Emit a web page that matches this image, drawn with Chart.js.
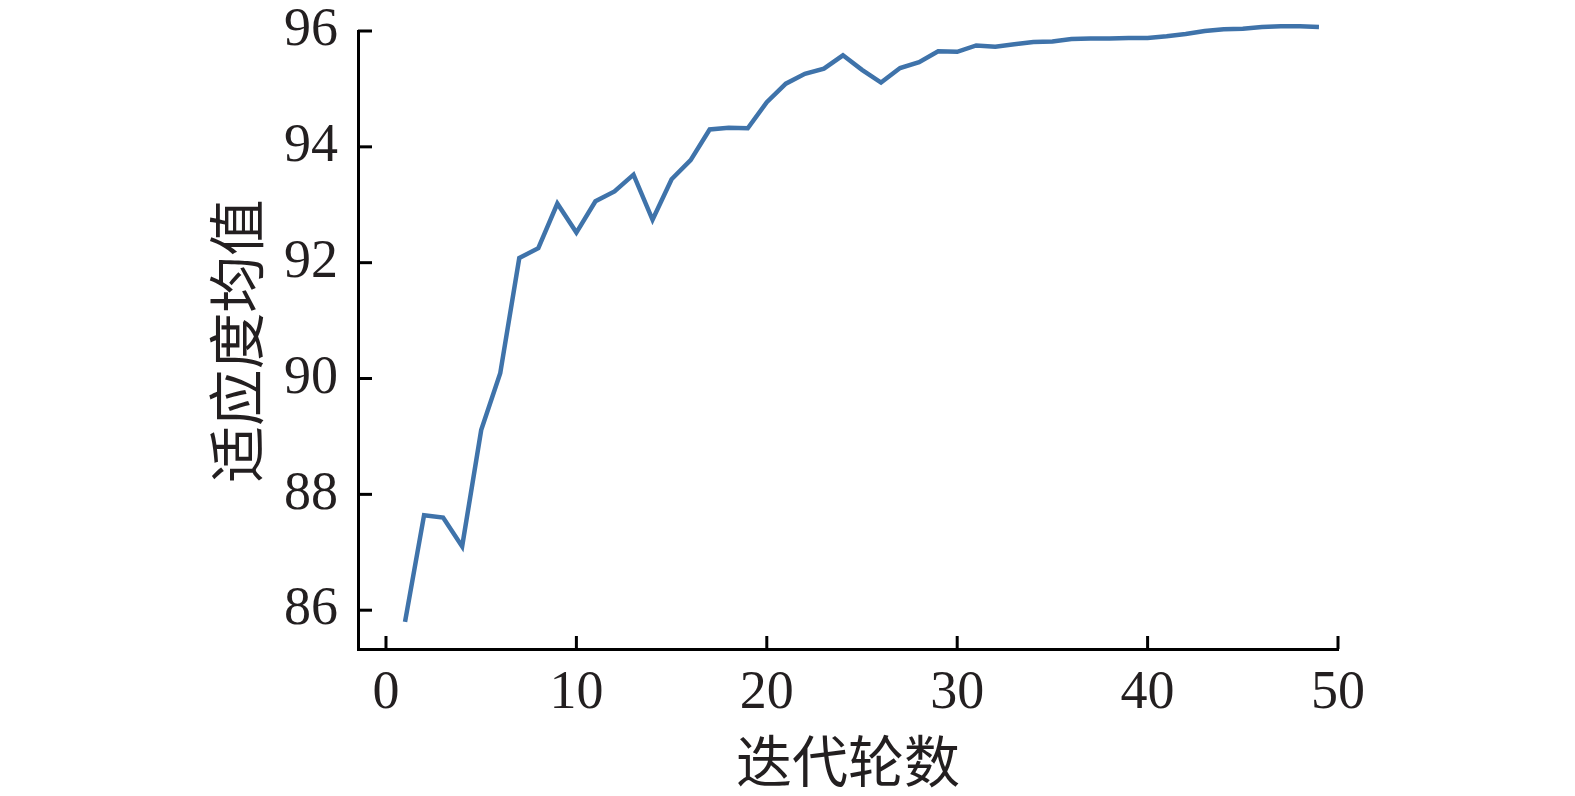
<!DOCTYPE html>
<html>
<head>
<meta charset="utf-8">
<script src="https://cdn.jsdelivr.net/npm/chart.js@4/dist/chart.umd.min.js"></script>
<style>
  html, body { margin: 0; padding: 0; background: #fff; }
  #wrap { width: 1575px; height: 796px; }
</style>
</head>
<body>
<div id="wrap"><canvas id="fitChart" width="1575" height="796"></canvas></div>
<script>
// iterations and mean fitness
const iterations = [1, 2, 3, 4, 5, 6, 7, 8, 9, 10, 11, 12, 13, 14, 15, 16, 17, 18, 19, 20,
    21, 22, 23, 24, 25, 26, 27, 28, 29, 30, 31, 32, 33, 34, 35, 36, 37, 38, 39, 40,
    41, 42, 43, 44, 45, 46, 47, 48, 49];
const fitnessMean = [85.80, 87.64, 87.60, 87.10, 89.11, 90.09, 92.08, 92.25, 93.02, 92.52,
    93.06, 93.23, 93.52, 92.74, 93.44, 93.77, 94.30, 94.33, 94.32, 94.77,
    95.09, 95.26, 95.35, 95.58, 95.33, 95.11, 95.36, 95.46, 95.65, 95.64,
    95.75, 95.73, 95.77, 95.81, 95.82, 95.86, 95.87, 95.87, 95.88, 95.88,
    95.91, 95.95, 96.00, 96.03, 96.04, 96.07, 96.08, 96.08, 96.07];
const xTicks = [0, 10, 20, 30, 40, 50];
const yTicks = [86, 88, 90, 92, 94, 96];
const xTitle = '迭代轮数';
const yTitle = '适应度均值';

const inkColor = '#231f20';
const lineColor = '#3f73aa';

// inward tick marks + stretched y title
const axisExtras = {
    id: 'axisExtras',
    afterDraw(chart) {
        const ctx = chart.ctx;
        const { x, y } = chart.scales;
        const area = chart.chartArea;
        ctx.save();
        ctx.strokeStyle = '#000';
        ctx.lineWidth = 3;
        x.ticks.forEach(t => {
            const px = x.getPixelForValue(t.value);
            ctx.beginPath();
            ctx.moveTo(px, area.bottom);
            ctx.lineTo(px, area.bottom - 13);
            ctx.stroke();
        });
        y.ticks.forEach(t => {
            const py = y.getPixelForValue(t.value);
            ctx.beginPath();
            ctx.moveTo(area.left, py);
            ctx.lineTo(area.left + 14, py);
            ctx.stroke();
        });

        ctx.translate(236, 341);
        ctx.rotate(-Math.PI / 2);
        ctx.scale(1.05, 1.06);
        ctx.fillStyle = inkColor;
        ctx.font = '54px "Noto Sans CJK SC"';
        ctx.textAlign = 'center';
        ctx.textBaseline = 'middle';
        ctx.fillText(yTitle, 0, 0);
        ctx.restore();
    }
};

const ctx = document.getElementById('fitChart').getContext('2d');
new Chart(ctx, {
    type: 'line',
    data: {
        datasets: [{
            data: iterations.map((it, i) => ({ x: it, y: fitnessMean[i] })),
            borderColor: lineColor,
            borderWidth: 4.5,
            pointRadius: 0,
            tension: 0,
            fill: false,
            clip: false
        }]
    },
    options: {
        responsive: false,
        animation: false,
        layout: { padding: { top: 31, right: 237, left: 0, bottom: 0 } },
        plugins: {
            legend: { display: false },
            tooltip: { enabled: false }
        },
        scales: {
            x: {
                type: 'linear',
                min: -1.47,
                max: 50,
                afterBuildTicks: scale => { scale.ticks = xTicks.map(v => ({ value: v })); },
                afterFit: scale => { scale.height = 147; scale.paddingLeft = 0; scale.paddingRight = 0; },
                grid: { display: false, drawTicks: false },
                border: { display: true, color: '#000', width: 3 },
                ticks: {
                    autoSkip: false,
                    maxRotation: 0,
                    padding: 12,
                    color: inkColor,
                    font: { family: '"Liberation Serif", serif', size: 54 }
                },
                title: {
                    display: true,
                    text: xTitle,
                    color: inkColor,
                    font: { family: '"Noto Sans CJK SC"', size: 56 },
                    padding: { top: 0, bottom: 2 }
                }
            },
            y: {
                min: 85.33,
                max: 96,
                afterBuildTicks: scale => { scale.ticks = yTicks.map(v => ({ value: v })); },
                afterFit: scale => { scale.width = 358; scale.paddingTop = 0; scale.paddingBottom = 0; },
                grid: { display: false, drawTicks: false },
                border: { display: true, color: '#000', width: 3 },
                ticks: {
                    autoSkip: false,
                    padding: 20,
                    color: inkColor,
                    font: { family: '"Liberation Serif", serif', size: 54 }
                }
            }
        }
    },
    plugins: [axisExtras]
});
</script>
</body>
</html>
